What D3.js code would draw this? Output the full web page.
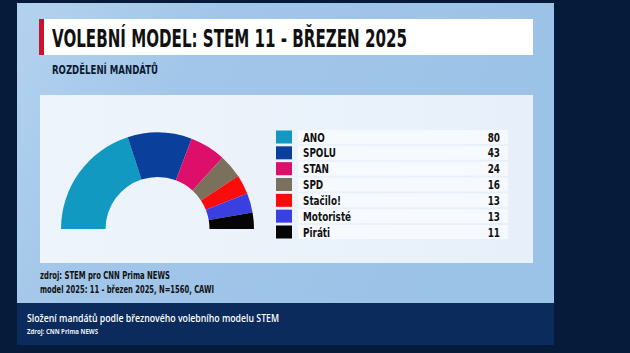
<!DOCTYPE html>
<html>
<head>
<meta charset="utf-8">
<script src="https://cdn.jsdelivr.net/npm/d3@7"></script>
<style>
  html, body { margin: 0; padding: 0; background: #061b39; }
  svg { display: block; }
</style>
</head>
<body>
<div id="chart"></div>
<script>
// Rozdělení mandátů podle modelu STEM, půlkruhový "parlament" + legenda.
const parties = ["ANO", "SPOLU", "STAN", "SPD", "Stačilo!", "Motoristé", "Piráti"];
const seats = [80, 43, 24, 16, 13, 13, 11];
const colors = ["#1199c2", "#0b3f9c", "#de0f6b", "#7b705c", "#fb0b0b", "#3a3fe2", "#050505"];

const title = "VOLEBNÍ MODEL: STEM 11 - BŘEZEN 2025";
const subtitle = "ROZDĚLENÍ MANDÁTŮ";
const sourceLines = ["zdroj: STEM pro CNN Prima NEWS", "model 2025: 11 - březen 2025, N=1560, CAWI"];
const caption = "Složení mandátů podle březnového volebního modelu STEM";
const captionSource = "Zdroj: CNN Prima NEWS";

const W = 630, H = 353;
const narrow = "'Liberation Sans Narrow', 'DejaVu Sans Condensed', 'Roboto', sans-serif";
const sans = "'Open Sans', 'Noto Sans', sans-serif";

const svg = d3.select("#chart").append("svg").attr("width", W).attr("height", H);
const defs = svg.append("defs");

const g1 = defs.append("linearGradient").attr("id", "panelGrad").attr("x1", 0).attr("y1", 0).attr("x2", 1).attr("y2", 0.3);
g1.append("stop").attr("offset", "0%").attr("stop-color", "#b3d2ef");
g1.append("stop").attr("offset", "35%").attr("stop-color", "#a2c6e9");
g1.append("stop").attr("offset", "100%").attr("stop-color", "#9bc2e7");

const g2 = defs.append("linearGradient").attr("id", "innerGrad").attr("x1", 0).attr("y1", 0).attr("x2", 1).attr("y2", 0);
g2.append("stop").attr("offset", "0%").attr("stop-color", "#eef4fb");
g2.append("stop").attr("offset", "100%").attr("stop-color", "#e7f0fa");

// pozadí
svg.append("rect").attr("width", W).attr("height", H).attr("fill", "#061b39");
svg.append("rect").attr("x", 17).attr("y", 3).attr("width", 537).attr("height", 300).attr("fill", "url(#panelGrad)");
svg.append("rect").attr("x", 17).attr("y", 303).attr("width", 537).attr("height", 42).attr("fill", "#0a2b5b");

// titulek
svg.append("rect").attr("x", 39).attr("y", 19).attr("width", 494).attr("height", 36).attr("fill", "#ffffff");
svg.append("rect").attr("x", 39).attr("y", 19).attr("width", 5).attr("height", 36).attr("fill", "#c8142c");
svg.append("text").attr("x", 52).attr("y", 47).attr("font-family", narrow).attr("font-weight", 700)
  .attr("font-size", 24).attr("fill", "#111").attr("textLength", 355).attr("lengthAdjust", "spacingAndGlyphs").text(title);
svg.append("text").attr("x", 52).attr("y", 74).attr("font-family", narrow).attr("font-weight", 700)
  .attr("font-size", 12.5).attr("fill", "#0d1a33").attr("textLength", 106).attr("lengthAdjust", "spacingAndGlyphs").text(subtitle);

// vnitřní panel
svg.append("rect").attr("x", 40).attr("y", 95).attr("width", 493).attr("height", 168).attr("fill", "url(#innerGrad)");

// půlkruh
const cx = 157.5, cy = 229;
const pie = d3.pie().sort(null).value((d) => d.v).startAngle(-Math.PI / 2).endAngle(Math.PI / 2);
const arc = d3.arc().innerRadius(52).outerRadius(96.5);
const data = parties.map((p, i) => ({ p, v: seats[i], c: colors[i] }));
svg.append("g").attr("transform", `translate(${cx},${cy})`)
  .selectAll("path").data(pie(data)).join("path")
  .attr("d", arc).attr("fill", (d) => d.data.c);

// legenda
const y = d3.scalePoint().domain(parties).range([137, 232]);
const leg = svg.append("g").selectAll("g").data(data).join("g")
  .attr("transform", (d) => `translate(0,${y(d.p)})`);
leg.append("rect").attr("x", 298).attr("y", -7).attr("width", 210).attr("height", 14).attr("fill", "#ffffff").attr("opacity", 0.6);
leg.append("rect").attr("x", 276).attr("y", -6.5).attr("width", 16).attr("height", 13).attr("fill", (d) => d.c);
leg.append("text").attr("x", 303).attr("y", 4.5).attr("font-family", narrow).attr("font-weight", 700)
  .attr("font-size", 12).attr("fill", "#111").text((d) => d.p)
  .each(function () { this.setAttribute("textLength", this.getComputedTextLength() * 0.82); })
  .attr("lengthAdjust", "spacingAndGlyphs");
leg.append("text").attr("x", 500).attr("y", 4.5).attr("text-anchor", "end").attr("font-family", narrow).attr("font-weight", 700)
  .attr("font-size", 12).attr("fill", "#111").text((d) => d.v)
  .each(function () { this.setAttribute("textLength", this.getComputedTextLength() * 0.82); })
  .attr("lengthAdjust", "spacingAndGlyphs");

// zdroj
const srcW = [130, 174];
svg.append("g").selectAll("text").data(sourceLines).join("text")
  .attr("x", 40).attr("y", (d, i) => 279 + i * 14).attr("font-family", narrow).attr("font-weight", 700)
  .attr("font-size", 11).attr("fill", "#111").attr("textLength", (d, i) => srcW[i]).attr("lengthAdjust", "spacingAndGlyphs").text((d) => d);

// popisek dole
svg.append("text").attr("x", 27).attr("y", 322).attr("font-family", sans).attr("font-weight", 600)
  .attr("font-size", 10).attr("fill", "#ffffff").attr("textLength", 252).attr("lengthAdjust", "spacingAndGlyphs").text(caption);
svg.append("text").attr("x", 27).attr("y", 334).attr("font-family", sans).attr("font-weight", 700)
  .attr("font-size", 7).attr("fill", "#e8eef8").attr("textLength", 71).attr("lengthAdjust", "spacingAndGlyphs").text(captionSource);
</script>
</body>
</html>
